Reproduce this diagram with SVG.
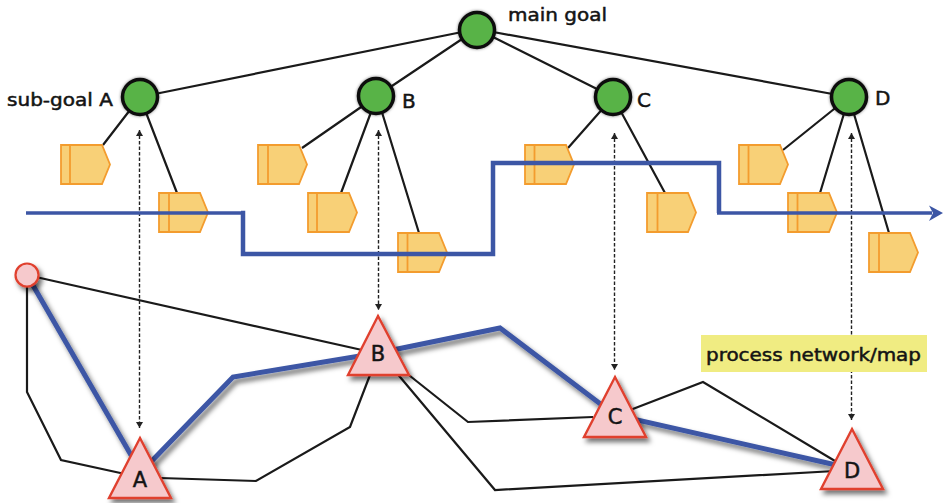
<svg xmlns="http://www.w3.org/2000/svg" width="943" height="503" viewBox="0 0 943 503">
<style>
.bg{fill:#fff}
.edge{fill:none;stroke:#1a1a1a;stroke-width:2.2;stroke-linejoin:miter}
.route{fill:none;stroke:#3c56a5;stroke-width:5;stroke-linejoin:miter;filter:url(#sh)}
.flow{fill:none;stroke:#3c56a5;stroke-linejoin:miter}
.dash{fill:none;stroke:#222;stroke-width:1.4;stroke-dasharray:3.5 2;marker-start:url(#ds);marker-end:url(#de)}
.goal{fill:#58b347;stroke:#0d0d0d;stroke-width:3.5;filter:url(#gl)}
.tag{fill:#f8d077;stroke:#f39c2e;stroke-width:1.8}
.tagbar{fill:none;stroke:#f39c2e;stroke-width:1.8}
.tri{fill:#f6c9cc;stroke:#e0402e;stroke-width:2.4;stroke-linejoin:miter;filter:url(#sh)}
.t{font-family:"DejaVu Sans","Noto Sans",sans-serif;fill:#141414;stroke:#141414;stroke-width:.5}
.lab{font-size:17.500px}
.one{font-size:20px}
.big{font-size:21px;text-anchor:middle}
</style>
<defs>
<filter id="sh" x="-30%" y="-30%" width="170%" height="170%"><feDropShadow dx="3" dy="4" stdDeviation="2.500" flood-color="#000" flood-opacity=".55"/></filter>
<filter id="gl" x="-30%" y="-30%" width="160%" height="160%"><feDropShadow dx="0" dy="0" stdDeviation="1.500" flood-color="#000" flood-opacity=".5"/></filter>
<marker id="de" markerUnits="userSpaceOnUse" markerWidth="8" markerHeight="8" refX="6" refY="3.500" orient="auto"><path d="M0 0L6 3.500L0 7z" fill="#222"/></marker>
<marker id="ds" markerUnits="userSpaceOnUse" markerWidth="8" markerHeight="8" refX="0" refY="3.500" orient="auto"><path d="M6 0L0 3.500L6 7z" fill="#222"/></marker>
<path id="tagshape" d="M0 0H41L49 19.500L41 39H0Z"/>
</defs>
<rect class="bg" width="943" height="503"/>
<g id="connectors">
<path class="edge" d="M477 29L140 97M477 29L377 96M477 29L613 97M477 29L849 97"/>
<path class="edge" d="M140 97L103 145M140 97L177 193M377 96L302 148M377 96L341 193M377 96L419 233M613 97L568 148M613 97L665 193M849 97L783 150M849 97L820 193M849 97L889 233"/>
<path class="edge" d="M27 275L362 350"/>
<path class="edge" d="M27 275V392L61 460L125 474"/>
<path class="edge" d="M160 478L256 481L350 427L370 375"/>
<path class="edge" d="M400 368L468 422L593 417"/>
<path class="edge" d="M390 365L495 490L835 471"/>
<path class="edge" d="M625 412L703 382L835 461"/>
<path class="route" d="M27 275L135 462"/>
<path class="route" d="M145 468L233 377L378 353L500 328L615 415L845 467"/>
</g>
<g id="tag-a1"><use href="#tagshape" class="tag" x="61" y="145"/><path class="tagbar" d="M70 145V184"/></g>
<g id="tag-a2"><use href="#tagshape" class="tag" x="159" y="193"/><path class="tagbar" d="M169 193V232"/></g>
<g id="tag-b1"><use href="#tagshape" class="tag" x="258" y="145"/><path class="tagbar" d="M268 145V184"/></g>
<g id="tag-b2"><use href="#tagshape" class="tag" x="308" y="193"/><path class="tagbar" d="M317 193V232"/></g>
<g id="tag-b3"><use href="#tagshape" class="tag" x="398" y="233"/><path class="tagbar" d="M407.500 233V272"/></g>
<g id="tag-c1"><use href="#tagshape" class="tag" x="525" y="145"/><path class="tagbar" d="M534.500 145V184"/></g>
<g id="tag-c2"><use href="#tagshape" class="tag" x="647" y="193"/><path class="tagbar" d="M657.500 193V232"/></g>
<g id="tag-d1"><use href="#tagshape" class="tag" x="739" y="145"/><path class="tagbar" d="M748.500 145V184"/></g>
<g id="tag-d2"><use href="#tagshape" class="tag" x="788" y="193"/><path class="tagbar" d="M797.500 193V232"/></g>
<g id="tag-d3"><use href="#tagshape" class="tag" x="869" y="233"/><path class="tagbar" d="M879 233V272"/></g>
<g id="links">
<path class="dash" d="M139.500 130V428"/>
<path class="dash" d="M378.500 130V310"/>
<path class="dash" d="M614.500 133V370"/>
<path class="dash" d="M851.500 133V420"/>
</g>
<g id="flow">
<path class="flow" stroke-width="3.500" d="M26 213H243"/>
<path class="flow" stroke-width="4.500" d="M241 213H243V254H493V163H719V213"/>
<path class="flow" stroke-width="3.500" d="M717 213H932"/>
<path d="M943 213L929 205.500L933 213L929 221Z" fill="#3c56a5"/>
</g>
<g id="goal-main"><circle class="goal" cx="477" cy="30" r="17.500"/><text class="t lab" x="508" y="21" textLength="99" lengthAdjust="spacingAndGlyphs">main goal</text></g>
<g id="goal-a"><circle class="goal" cx="140" cy="97" r="17.500"/><text class="t lab" x="7" y="106" textLength="106" lengthAdjust="spacingAndGlyphs">sub-goal A</text></g>
<g id="goal-b"><circle class="goal" cx="376" cy="96" r="17.500"/><text class="t one" x="402" y="108">B</text></g>
<g id="goal-c"><circle class="goal" cx="613" cy="97" r="17.500"/><text class="t one" x="637" y="107">C</text></g>
<g id="goal-d"><circle class="goal" cx="849" cy="97" r="17.500"/><text class="t one" x="875" y="105">D</text></g>
<g id="start"><circle cx="27" cy="275" r="11.500" fill="#f6c9cc" stroke="#e0402e" stroke-width="2.200" filter="url(#sh)"/></g>
<g id="proc-a"><path class="tri" d="M140 438L171 498H109Z"/><text class="t big" x="140" y="487">A</text></g>
<g id="proc-b"><path class="tri" d="M378 316L409 375H348Z"/><text class="t big" x="378" y="361">B</text></g>
<g id="proc-c"><path class="tri" d="M615 377L646 437H584Z"/><text class="t big" x="615" y="424">C</text></g>
<g id="proc-d"><path class="tri" d="M852 429L883 489H821Z"/><text class="t big" x="852" y="478">D</text></g>
<g id="map-label"><rect x="701" y="335" width="226" height="37" fill="#f0ec82"/><text class="t lab" x="706" y="361" textLength="215" lengthAdjust="spacingAndGlyphs">process network/map</text></g>
</svg>
